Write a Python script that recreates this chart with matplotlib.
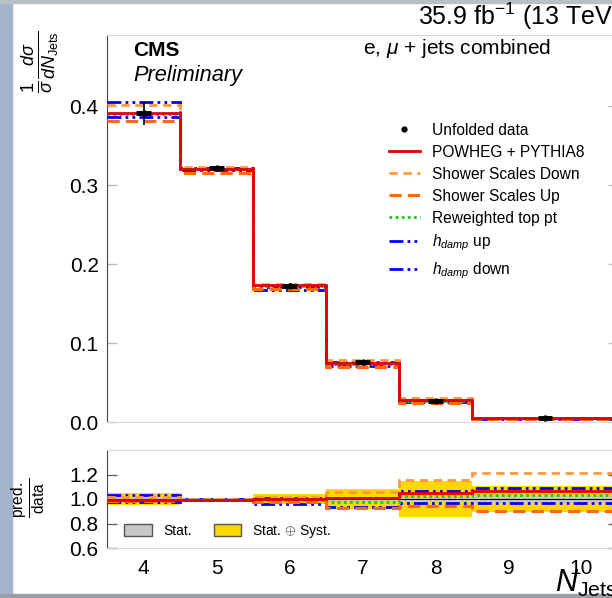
import numpy as np
import matplotlib
matplotlib.use('Agg')
import matplotlib.pyplot as plt
from matplotlib.patches import Patch, Rectangle
from matplotlib.lines import Line2D

plt.rcParams['font.family'] = ['Liberation Sans', 'DejaVu Sans']
plt.rcParams['mathtext.fontset'] = 'custom'
plt.rcParams['mathtext.rm'] = 'Liberation Sans'
plt.rcParams['mathtext.it'] = 'Liberation Sans:italic'
plt.rcParams['mathtext.bf'] = 'Liberation Sans:bold'

# bins: 4, 5, 6, 7, 8, >=9
edges = [3.5, 4.5, 5.5, 6.5, 7.5, 8.5, 10.5]
centers = [4, 5, 6, 7, 8, 9.5]
tick_labels = ['4', '5', '6', '7', '8', '9', '10']

# normalised cross section
data = [0.391, 0.321, 0.172, 0.0755, 0.0265, 0.0046]
data_err = [0.0145, 0.003, 0.004, 0.003, 0.0015, 0.0006]
powheg = [0.391, 0.3198, 0.173, 0.0745, 0.0275, 0.0048]
shower_down = [0.401, 0.3224, 0.1745, 0.0785, 0.0300, 0.0056]
shower_up = [0.3814, 0.3148, 0.168, 0.0696, 0.0245, 0.0042]
top_pt = [0.3895, 0.320, 0.172, 0.0735, 0.0272, 0.0047]
hdamp_up = [0.405, 0.321, 0.171, 0.0755, 0.028, 0.0050]
hdamp_down = [0.3865, 0.3195, 0.1665, 0.0705, 0.0257, 0.0044]

# ratio pred / data
r_powheg = [0.995, 0.995, 1.0, 1.01, 1.045, 1.062]
r_shower_down = [1.015, 1.0, 1.02, 1.057, 1.152, 1.21]
r_shower_up = [0.98, 0.99, 0.975, 0.927, 0.94, 0.90]
r_top_pt = [0.99, 0.995, 0.99, 0.976, 1.025, 1.035]
r_hdamp_up = [1.03, 1.0, 1.01, 1.005, 1.062, 1.09]
r_hdamp_down = [0.975, 0.99, 0.96, 0.935, 0.968, 0.97]
stat_unc = [0.01, 0.005, 0.01, 0.015, 0.02, 0.03]
total_unc = [0.045, 0.01, 0.04, 0.08, 0.145, 0.105]

RED = '#e00000'
OR_DOWN = '#ff9a3c'
OR_UP = '#ff6a10'
GREEN = '#11cc11'
BLUE = '#0000ff'
dashdotdot = (0, (5, 1.5, 1, 1.5, 1, 1.5))

fig = plt.figure(figsize=(6.12, 5.98), dpi=100)
fig.patch.set_facecolor('white')
fig.patches.append(Rectangle((0, 0), 12 / 612, 1, transform=fig.transFigure,
                             color='#a3b3cb', zorder=-10))
fig.patches.append(Rectangle((0, 1 - 3 / 598), 1, 3 / 598, transform=fig.transFigure,
                             color='#b9bec8', zorder=-10))
fig.patches.append(Rectangle((0, 0), 1, 4 / 598, transform=fig.transFigure,
                             color='#9aa0aa', zorder=-10))

ax1 = fig.add_axes([107 / 612, 1 - 422 / 598, 511 / 612, 387 / 598])
ax2 = fig.add_axes([107 / 612, 1 - 548 / 598, 511 / 612, 98 / 598])


def draw_models(ax, vals):
    pw, sd, su, tp, hu, hd = vals
    ax.stairs(hu, edges, baseline=None, color=BLUE, lw=2, ls=dashdotdot, zorder=3)
    ax.stairs(hd, edges, baseline=None, color=BLUE, lw=2, ls=dashdotdot, zorder=3)
    ax.stairs(tp, edges, baseline=None, color=GREEN, lw=2, ls=(0, (1, 1.2)), zorder=3)
    ax.stairs(sd, edges, baseline=None, color=OR_DOWN, lw=2, ls=(0, (3, 2)), zorder=4)
    ax.stairs(su, edges, baseline=None, color=OR_UP, lw=2.2, ls=(0, (4, 2)), zorder=4)
    ax.stairs(pw, edges, baseline=None, color=RED, lw=2, zorder=5)


# main panel
draw_models(ax1, [powheg, shower_down, shower_up, top_pt, hdamp_up, hdamp_down])
ax1.errorbar(centers, data, yerr=data_err, fmt='o', ms=3.5, color='black',
             elinewidth=1.2, capsize=0, zorder=6)
ax1.errorbar(centers, data, xerr=0.1, fmt='none', ecolor='black',
             elinewidth=3.5, capsize=0, zorder=6)
ax1.set_xlim(3.5, 10.5)
ax1.set_ylim(0, 0.49)
ax1.set_yticks([0.0, 0.1, 0.2, 0.3, 0.4])
ax1.set_yticklabels(['0.0', '0.1', '0.2', '0.3', '0.4'])

# ratio panel
ax2.stairs(np.array(total_unc) + 1, edges, baseline=1 - np.array(total_unc),
           fill=True, color='#ffd700', zorder=1)
ax2.stairs(np.array(stat_unc) + 1, edges, baseline=1 - np.array(stat_unc),
           fill=True, color='#c8c8c8', zorder=2)
ax2.axhline(1.0, color='black', lw=0.8, zorder=2)
draw_models(ax2, [r_powheg, r_shower_down, r_shower_up, r_top_pt, r_hdamp_up, r_hdamp_down])
ax2.set_xlim(3.5, 10.5)
ax2.set_ylim(0.6, 1.4)
ax2.set_yticks([0.6, 0.8, 1.0, 1.2])
ax2.set_yticklabels(['0.6', '0.8', '1.0', '1.2'])

for ax in (ax1, ax2):
    for s in ('top', 'right', 'bottom'):
        ax.spines[s].set_color('#d8d8d8')
    ax.spines['left'].set_color('#444444')
    ax.set_xticks(range(4, 11))
    ax.set_xticks([5, 7, 9], minor=True)
    ax.tick_params(axis='x', which='major', length=0, labelsize=15, pad=8)
    ax.tick_params(axis='x', which='minor', direction='in', length=7, width=1,
                   color='#222222', top=True, bottom=True)
    ax.tick_params(axis='y', which='major', direction='in', length=7, width=1,
                   color='#bbbbbb', left=True, right=True, labelsize=15, pad=6)
ax1.tick_params(axis='x', labelbottom=False)
ax2.tick_params(axis='y', color='#666666')
ax2.set_xticklabels(tick_labels)

# legends
handles = [
    Line2D([], [], color='black', marker='o', ms=3.5, lw=0),
    Line2D([], [], color=RED, lw=2),
    Line2D([], [], color=OR_DOWN, lw=2, ls=(0, (3, 2))),
    Line2D([], [], color=OR_UP, lw=2.2, ls=(0, (4, 2))),
    Line2D([], [], color=GREEN, lw=2, ls=(0, (1, 1.2))),
    Line2D([], [], color=BLUE, lw=2, ls=dashdotdot),
    Line2D([], [], color=BLUE, lw=2, ls=dashdotdot),
]
labels = ['Unfolded data', 'POWHEG + PYTHIA8', 'Shower Scales Down',
          'Shower Scales Up', 'Reweighted top pt', r'$h_{damp}$ up', r'$h_{damp}$ down']
ax1.legend(handles, labels, loc='upper left', bbox_to_anchor=(381 / 612, 1 - 115 / 598),
           bbox_transform=fig.transFigure, frameon=False, fontsize=11.2,
           handlelength=2.0, handletextpad=0.75, labelspacing=0.45, borderpad=0)

ax2.legend([Patch(facecolor='#c8c8c8', edgecolor='#555555'),
            Patch(facecolor='#ffd700', edgecolor='#555555')],
           ['Stat.', r'Stat. $\oplus$ Syst.'], loc='lower left', ncol=2,
           bbox_to_anchor=(117 / 612, 1 - 547 / 598), bbox_transform=fig.transFigure,
           frameon=False, fontsize=10, handlelength=2.0, handleheight=0.9,
           handletextpad=0.8, columnspacing=1.6, borderpad=0)

# text
fig.text(133 / 612, 1 - 50 / 598, 'CMS', fontsize=15, fontweight='bold', va='center')
fig.text(133 / 612, 1 - 76 / 598, 'Preliminary', fontsize=15.7, style='italic', va='center')
fig.text(363 / 612, 1 - 49 / 598, r'e, $\mu$ + jets combined', fontsize=15, va='center')
fig.text(418 / 612, 1 - 16 / 598, r'35.9 fb$^{-1}$ (13 TeV)', fontsize=18, va='center')
fig.text(40 / 612, 1 - 62 / 598, r'$\frac{1}{\sigma}\frac{d\sigma}{dN_{\rm Jets}}$',
         fontsize=18.5, rotation=90, ha='center', va='center')
fig.text(29 / 612, 1 - 498 / 598, r'$\frac{\rm pred.}{\rm data}$',
         fontsize=16, rotation=90, ha='center', va='center')
fig.text(555 / 612, 1 - 592 / 598, r'$N_{\rm Jets}$', fontsize=22, ha='left', va='baseline')

fig.savefig('out.png', dpi=100)
